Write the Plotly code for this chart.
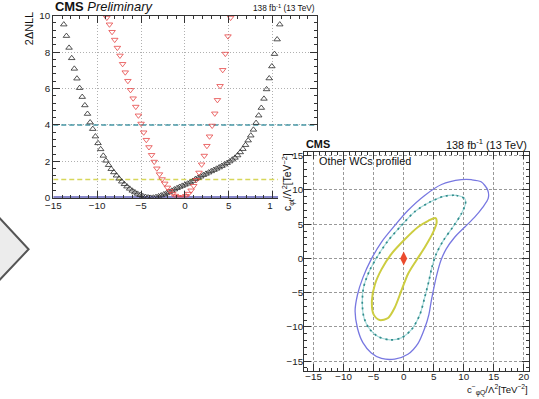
import plotly.graph_objects as go

W, H = 539, 399

# ---------------- left panel: 1D likelihood scans ----------------
black_x = [-13.8, -13.5, -13.2, -12.9, -12.6, -12.3, -12.0, -11.7, -11.4, -11.1,
           -10.8, -10.5, -10.2, -9.9, -9.6, -9.3, -9.0, -8.7, -8.4, -8.1,
           -7.8, -7.5, -7.2, -6.9, -6.6, -6.3, -6.0, -5.7, -5.4, -5.1,
           -4.8, -4.5, -4.2, -3.9, -3.6, -3.3, -3.0, -2.7, -2.4, -2.1,
           -1.8, -1.5, -1.2, -0.9, -0.6, -0.3, 0.0, 0.3, 0.6, 0.9,
           1.2, 1.5, 1.8, 2.1, 2.4, 2.7, 3.0, 3.3, 3.6, 3.9,
           4.2, 4.5, 4.8, 5.1, 5.4, 5.7, 6.0, 6.3, 6.6, 6.9,
           7.2, 7.5, 7.8, 8.1, 8.4, 8.7, 9.0, 9.3, 9.6, 9.9,
           10.2, 10.5, 10.8]
black_y = [9.52, 8.89, 8.24, 7.67, 7.09, 6.55, 6.03, 5.54, 5.08, 4.61,
           4.14, 3.78, 3.37, 3.00, 2.67, 2.31, 2.04, 1.80, 1.58, 1.40,
           1.22, 1.05, 0.89, 0.75, 0.62, 0.50, 0.39, 0.30, 0.22, 0.15,
           0.09, 0.05, 0.02, 0.00, 0.01, 0.04, 0.08, 0.13, 0.19, 0.25,
           0.32, 0.39, 0.46, 0.53, 0.60, 0.66, 0.72, 0.78, 0.85, 0.93,
           1.03, 1.10, 1.17, 1.25, 1.32, 1.39, 1.46, 1.53, 1.60, 1.67,
           1.75, 1.83, 1.91, 2.00, 2.10, 2.20, 2.33, 2.50, 2.68, 2.90,
           3.15, 3.42, 3.74, 4.11, 4.52, 4.94, 5.44, 5.96, 6.56, 7.22,
           7.90, 8.70, 9.52]

red_x = [-8.9, -8.6, -8.3, -8.0, -7.7, -7.4, -7.1, -6.8, -6.5, -6.2,
         -5.9, -5.6, -5.3, -5.0, -4.7, -4.4, -4.1, -3.8, -3.5, -3.2,
         -2.9, -2.6, -2.3, -2.0, -1.7, -1.4, -1.1, -0.8, -0.5, -0.2,
         0.1, 0.4, 0.7, 1.0, 1.3, 1.6, 1.9, 2.2, 2.5, 2.8,
         3.1, 3.4, 3.7, 4.0, 4.3, 4.6, 4.9, 5.2]
red_y = [9.89, 9.52, 9.11, 8.68, 8.24, 7.81, 7.35, 6.89, 6.42, 5.92,
         5.46, 5.00, 4.52, 4.07, 3.59, 3.18, 2.78, 2.35, 1.98, 1.61,
         1.29, 1.02, 0.78, 0.56, 0.37, 0.22, 0.11, 0.04, 0.00, 0.03,
         0.10, 0.22, 0.40, 0.65, 0.98, 1.38, 1.83, 2.31, 2.85, 3.37,
         3.96, 4.63, 5.37, 6.14, 7.02, 7.91, 8.87, 9.89]

line_x = [-15, 15]
level_95 = [4, 4]
level_68 = [1, 1]
level_0 = [0, 0]

left_xticks = [-15, -10, -5, 0, 5, 10, 15]
left_xlabels = ["−15", "−10", "−5", "0", "5", "1<span style='color:white'>0</span>", "15"]
left_yticks = [0, 2, 4, 6, 8, 10]

# ---------------- right panel: 2D contours ----------------
outer_x = [9.6, 11.3, 12.9, 14.0, 14.1, 13.2, 11.8, 10.2, 8.5, 7.1, 6.2, 5.6, 5.1, 4.6,
           4.2, 3.5, 2.4, 0.7, -1.5, -3.7, -5.4, -6.8, -7.7, -8.1, -7.7, -6.8, -5.4,
           -3.7, -1.5, 0.7, 3.5, 6.3, 9.6]
outer_y = [11.5, 11.5, 11.2, 10.0, 8.8, 7.5, 6.0, 4.6, 3.1, 1.4, -0.3, -2.1, -4.0, -6.2,
           -8.2, -10.2, -12.4, -14.0, -14.7, -14.6, -13.8, -12.3, -10.2, -7.7, -5.3, -2.8, -0.1,
           2.4, 4.8, 7.0, 9.2, 10.8, 11.5]

middle_x = [6.8, 8.8, 10.2, 10.3, 9.6, 8.2, 6.6, 5.4, 4.7, 4.2, 3.5, 2.7, 1.3, -0.4,
            -2.3, -4.3, -5.7, -6.6, -6.9, -6.7, -5.7, -4.3, -2.6, -0.4, 1.8, 4.3, 6.8]
middle_y = [9.1, 9.2, 8.7, 8.0, 6.5, 4.6, 2.6, 0.6, -1.3, -3.3, -5.7, -8.2, -10.4, -11.6,
            -11.9, -11.4, -10.3, -8.7, -6.7, -4.3, -1.8, 0.4, 2.6, 4.8, 6.8, 8.2, 9.1]

inner_x = [5.3, 5.5, 4.9, 3.5, 2.1, 0.7, -0.4, -1.5, -2.6, -4.0, -5.0, -5.3, -4.8,
           -3.7, -2.1, 0.2, 2.4, 4.1, 5.3]
inner_y = [5.9, 5.3, 3.8, 1.6, -0.3, -2.3, -4.75, -7.2, -8.7, -9.0, -8.2, -6.2, -3.8,
           -1.6, 0.6, 2.8, 4.6, 5.5, 5.9]

best_x = [0.0]
best_y = [0.0]

right_xticks = [-15, -10, -5, 0, 5, 10, 15, 20]
right_yticks = [-15, -10, -5, 0, 5, 10, 15]

FONT = "Liberation Sans, Arial, Helvetica, sans-serif"

# The page is shown with an 8px body margin and scaled to the window,
# so map target-image pixels to figure pixels accordingly.
SX = (W + 16) / W
SY = (H + 16) / H
FS = 1.035  # font compensation


def fx(r):
    return (r * SX - 8) / W


def fy(r):
    return (H - (r * SY - 8)) / H


def fs(s):
    return s * FS


fig = go.Figure()

# left panel
fig.add_trace(go.Scatter(x=line_x, y=level_0, mode="lines", xaxis="x", yaxis="y",
                         line=dict(color="rgb(95,95,185)", width=3), hoverinfo="skip"))
fig.add_trace(go.Scatter(x=line_x, y=level_95, mode="lines", xaxis="x", yaxis="y",
                         line=dict(color="rgb(70,150,165)", width=1.6, dash="5px,3px"), hoverinfo="skip"))
fig.add_trace(go.Scatter(x=line_x, y=level_68, mode="lines", xaxis="x", yaxis="y",
                         line=dict(color="rgb(215,215,90)", width=1.6, dash="5px,3px"), hoverinfo="skip"))
fig.add_trace(go.Scatter(x=black_x, y=black_y, mode="markers", xaxis="x", yaxis="y",
                         marker=dict(symbol="triangle-up-open", size=5.7, color="rgb(40,40,40)",
                                     line=dict(width=0.8))))
fig.add_trace(go.Scatter(x=red_x, y=red_y, mode="markers", xaxis="x", yaxis="y",
                         marker=dict(symbol="triangle-down-open", size=5.7, color="rgb(230,70,70)",
                                     line=dict(width=0.8))))

# white cover panel (subplot whose background hides the left panel)
fig.add_trace(go.Scatter(x=[0], y=[0], mode="markers", xaxis="x2", yaxis="y2",
                         marker=dict(size=1, opacity=0), hoverinfo="skip"))

# right panel
fig.add_trace(go.Scatter(x=outer_x, y=outer_y, mode="lines", xaxis="x3", yaxis="y3",
                         line=dict(color="rgb(120,120,225)", width=1.3, shape="spline", smoothing=0.8),
                         hoverinfo="skip"))
fig.add_trace(go.Scatter(x=middle_x, y=middle_y, mode="lines", xaxis="x3", yaxis="y3",
                         line=dict(color="rgb(165,218,218)", width=1.2, shape="spline", smoothing=0.8),
                         hoverinfo="skip"))
fig.add_trace(go.Scatter(x=middle_x, y=middle_y, mode="lines", xaxis="x3", yaxis="y3",
                         line=dict(color="rgb(50,140,140)", width=1.7, dash="2px,4px", shape="spline",
                                   smoothing=0.8),
                         hoverinfo="skip"))
fig.add_trace(go.Scatter(x=inner_x, y=inner_y, mode="lines", xaxis="x3", yaxis="y3",
                         line=dict(color="rgb(205,205,65)", width=2.0, shape="spline", smoothing=0.8),
                         hoverinfo="skip"))
fig.add_trace(go.Scatter(x=best_x, y=best_y, mode="markers", xaxis="x3", yaxis="y3",
                         marker=dict(symbol="diamond-tall", size=10, color="rgb(235,75,45)")))

axis_common = dict(showline=True, linecolor="#333", linewidth=1, mirror="ticks",
                   ticks="inside", tickcolor="#333",
                   tickfont=dict(family=FONT, size=fs(9.5), color="#222"),
                   zeroline=False, showgrid=True)

fig.update_layout(
    width=W, height=H, margin=dict(l=0, r=0, t=0, b=0),
    paper_bgcolor="white", plot_bgcolor="white", showlegend=False,
    xaxis=dict(domain=[fx(52.9), fx(315.5)], range=[-15, 15], anchor="y",
               tickmode="array", tickvals=left_xticks, ticktext=left_xlabels, ticklen=7,
               ticklabelstandoff=-2,
               gridcolor="#b0b0b0", griddash="1px,2px", gridwidth=1,
               minor=dict(dtick=1, ticklen=3, ticks="inside", tickcolor="#333", showgrid=False),
               **axis_common),
    yaxis=dict(domain=[fy(197.3), fy(17.3)], range=[0, 10], anchor="x",
               tickmode="array", tickvals=left_yticks, ticklen=7,
               ticklabelstandoff=0,
               gridcolor="#b0b0b0", griddash="1px,2px", gridwidth=1,
               minor=dict(dtick=0.4, ticklen=3, ticks="inside", tickcolor="#333", showgrid=False),
               **axis_common),
    xaxis2=dict(domain=[fx(277), 1], range=[0, 1], anchor="y2", visible=False),
    yaxis2=dict(domain=[0, fy(131)], range=[0, 1], anchor="x2", visible=False),
    xaxis3=dict(domain=[fx(303), fx(527.3)], range=[-16.6, 20.9], anchor="y3",
                tickmode="array", tickvals=right_xticks, ticklen=7,
                ticklabelstandoff=-4,
                gridcolor="#999999", griddash="3px,2px", gridwidth=1,
                minor=dict(dtick=1, ticklen=3, ticks="inside", tickcolor="#333", showgrid=False),
                **axis_common),
    yaxis3=dict(domain=[fy(368.3), fy(151.7)], range=[-16.4, 15.6], anchor="x3",
                tickmode="array", tickvals=right_yticks, ticklen=7,
                ticklabelstandoff=-2,
                gridcolor="#999999", griddash="3px,2px", gridwidth=1,
                minor=dict(dtick=1, ticklen=3, ticks="inside", tickcolor="#333", showgrid=False),
                **axis_common),
)

ann = []
# left panel texts
ann.append(dict(text="<b>CMS</b> <i>Preliminary</i>", x=fx(53), y=fy(8.5), xref="paper", yref="paper",
                xanchor="left", yanchor="middle", showarrow=False,
                font=dict(family=FONT, size=fs(12.5), color="#111")))
ann.append(dict(text="138 fb<sup>-1</sup> (13 TeV)", x=fx(316), y=fy(10), xref="paper", yref="paper",
                xanchor="right", yanchor="middle", showarrow=False,
                font=dict(family=FONT, size=fs(8), color="#111")))
ann.append(dict(text="2ΔNLL", x=fx(29), y=fy(12), xref="paper", yref="paper",
                xanchor="center", yanchor="top", textangle=-90, showarrow=False,
                font=dict(family=FONT, size=fs(10.5), color="#111")))
# right panel texts
ann.append(dict(text="<b>CMS</b>", x=fx(303), y=fy(144), xref="paper", yref="paper",
                xanchor="left", yanchor="middle", showarrow=False,
                font=dict(family=FONT, size=fs(10.5), color="#111")))
ann.append(dict(text="138 fb<sup>-1</sup> (13 TeV)", x=fx(527.5), y=fy(144), xref="paper", yref="paper",
                xanchor="right", yanchor="middle", showarrow=False,
                font=dict(family=FONT, size=fs(10.5), color="#111")))
ann.append(dict(text="Other WCs profiled", x=fx(316), y=fy(161), xref="paper", yref="paper",
                xanchor="left", yanchor="middle", showarrow=False,
                font=dict(family=FONT, size=fs(10.5), color="#111")))
ann.append(dict(text="c<sup>−</sup><sub>φQ</sub>/Λ<sup>2</sup>[TeV<sup>−2</sup>]", x=fx(528), y=fy(387.5),
                xref="paper", yref="paper", xanchor="right", yanchor="middle", showarrow=False,
                font=dict(family=FONT, size=fs(9.3), color="#111")))
ann.append(dict(text="c<sub>φt</sub>/Λ<sup>2</sup>[TeV<sup>−2</sup>]", x=fx(287), y=fy(151),
                xref="paper", yref="paper", xanchor="center", yanchor="top", textangle=-90, showarrow=False,
                font=dict(family=FONT, size=fs(10), color="#111")))
fig.update_layout(annotations=ann)

# chevron arrow on the left edge
p = [(-4, 213.7), (28.3, 248.2), (-4, 282.0)]
path = "M {} {} L {} {} L {} {} Z".format(fx(p[0][0]), fy(p[0][1]), fx(p[1][0]), fy(p[1][1]),
                                         fx(p[2][0]), fy(p[2][1]))
fig.add_shape(type="path", path=path, xref="paper", yref="paper",
              fillcolor="rgb(236,236,236)", line=dict(color="rgb(85,85,85)", width=2), layer="above")

fig.write_html("out.html")
